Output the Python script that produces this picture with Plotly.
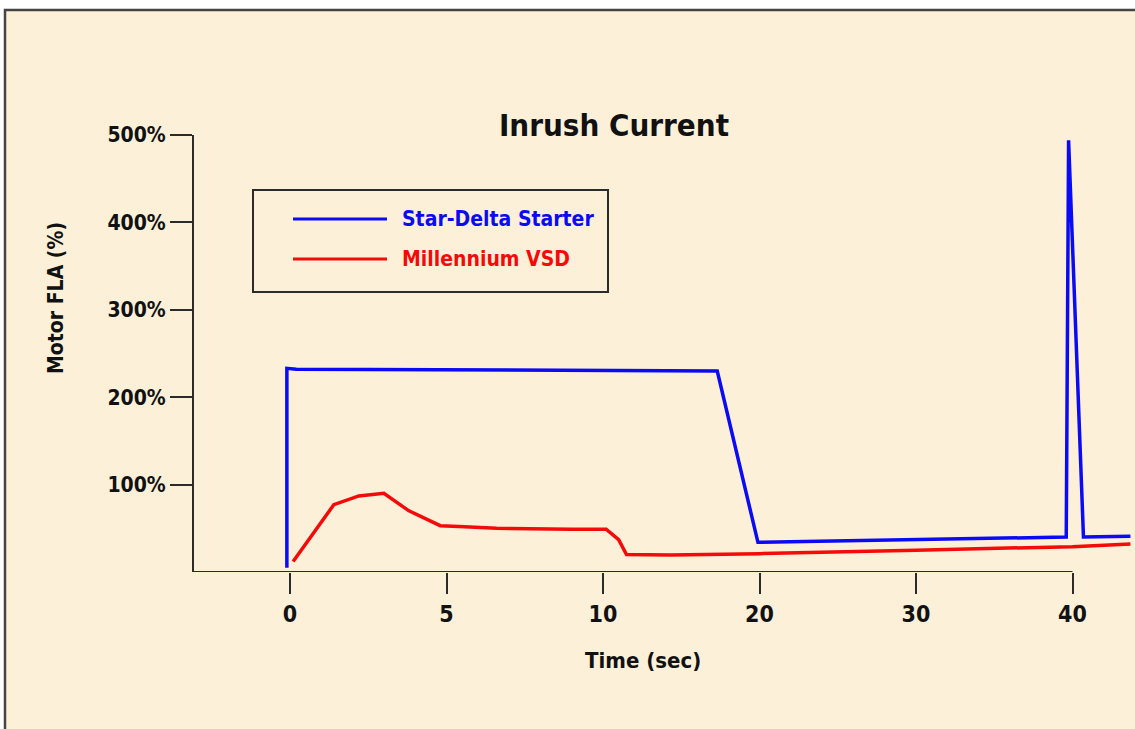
import numpy as np
import plotly.graph_objects as go

# ---------------- data ----------------
tick_seconds = [0, 5, 10, 20, 30, 40]
tick_labels = ["0", "5", "10", "20", "30", "40"]
y_tick_values = [100, 200, 300, 400, 500]
y_tick_labels = ["100%", "200%", "300%", "400%", "500%"]

star_delta_time = [-0.1, -0.1, 0.2, 7.4, 17.3, 19.9, 30.0, 39.6, 39.75, 40.7, 43.7]
star_delta_fla = [5, 233, 232, 231, 230, 34, 37, 40, 494, 40, 41]

vsd_time = [0.1, 1.4, 2.2, 3.0, 3.8, 4.8, 5.4, 6.6, 9.0, 10.2, 11.0, 11.5, 14.3, 20.0, 30.0, 40.0, 43.7]
vsd_fla = [12, 77, 87, 90, 70, 53, 52, 50, 49, 49, 37, 20, 19.5, 21, 25, 29, 32]

series_names = ["Star-Delta Starter", "Millennium VSD"]
series_colors = ["#0a0af5", "#f50a0a"]

# ------------- axis warp: ticks equally spaced -------------
tick_index = list(range(len(tick_seconds)))


def to_axis(t):
    t = np.asarray(t, dtype=float)
    out = np.interp(t, tick_seconds, tick_index)
    lo = t < tick_seconds[0]
    hi = t > tick_seconds[-1]
    out[lo] = (t[lo] - tick_seconds[0]) / (tick_seconds[1] - tick_seconds[0])
    out[hi] = tick_index[-1] + (t[hi] - tick_seconds[-1]) / (tick_seconds[-1] - tick_seconds[-2])
    return out


# ------------- layout geometry (pixels) -------------
W, H = 1135, 729
L, R, T, B = 194, 1135, 135, 572
PW, PH = R - L, B - T
x0_px, x_step_px = 290, 156.5
x_min = (L - x0_px) / x_step_px
x_max = (R - x0_px) / x_step_px


def px(x):
    return (x - L) / PW


def py(y):
    return (B - y) / PH


FONT = "DejaVu Sans Condensed, Liberation Sans Narrow, DejaVu Sans, sans-serif"
INK = "#2b2b2b"
TXT = "#111111"
CREAM = "#fcf0d9"

fig = go.Figure()
fig.add_trace(go.Scatter(x=to_axis(star_delta_time), y=star_delta_fla, mode="lines",
                         name=series_names[0], line=dict(color=series_colors[0], width=3.5),
                         showlegend=False))
fig.add_trace(go.Scatter(x=to_axis(vsd_time), y=vsd_fla, mode="lines",
                         name=series_names[1], line=dict(color=series_colors[1], width=3.5),
                         showlegend=False))

shapes = [
    # outer frame
    dict(type="rect", xref="paper", yref="paper", x0=px(5), x1=px(1145), y0=py(745), y1=py(10),
         line=dict(color="#444444", width=2.5), fillcolor=CREAM, layer="below"),
    # x-axis baseline up to last tick
    dict(type="line", xref="x", yref="y", x0=x_min, x1=tick_index[-1], y0=0, y1=0,
         line=dict(color=INK, width=2)),
    # legend box
    dict(type="rect", xref="paper", yref="paper", x0=px(253), x1=px(608), y0=py(292), y1=py(190),
         line=dict(color=INK, width=2), fillcolor="rgba(0,0,0,0)"),
    dict(type="line", xref="paper", yref="paper", x0=px(293), x1=px(387), y0=py(219), y1=py(219),
         line=dict(color=series_colors[0], width=3)),
    dict(type="line", xref="paper", yref="paper", x0=px(293), x1=px(387), y0=py(259), y1=py(259),
         line=dict(color=series_colors[1], width=3)),
]

annotations = [
    dict(text="<b>Inrush Current</b>", xref="paper", yref="paper", x=px(614), y=py(125),
         xanchor="center", yanchor="middle", showarrow=False,
         font=dict(family=FONT, size=31, color=TXT)),
    dict(text="<b>Motor FLA (%)</b>", xref="paper", yref="paper", x=px(56), y=py(298),
         xanchor="center", yanchor="middle", showarrow=False, textangle=-90,
         font=dict(family=FONT, size=21, color=TXT)),
    dict(text="<b>Time (sec)</b>", xref="paper", yref="paper", x=px(643), y=py(660),
         xanchor="center", yanchor="middle", showarrow=False,
         font=dict(family=FONT, size=22, color=TXT)),
    dict(text="<b>" + series_names[0] + "</b>", xref="paper", yref="paper", x=px(400), y=py(219),
         xanchor="left", yanchor="middle", showarrow=False,
         font=dict(family=FONT, size=21, color=series_colors[0])),
    dict(text="<b>" + series_names[1] + "</b>", xref="paper", yref="paper", x=px(400), y=py(259),
         xanchor="left", yanchor="middle", showarrow=False,
         font=dict(family=FONT, size=21, color=series_colors[1])),
]

fig.update_layout(
    width=W, height=H,
    margin=dict(l=L, r=W - R, t=T, b=H - B, pad=0),
    paper_bgcolor="white",
    plot_bgcolor="rgba(0,0,0,0)",
    shapes=shapes,
    annotations=annotations,
    showlegend=False,
    xaxis=dict(range=[x_min, x_max], tickmode="array", tickvals=tick_index, ticktext=tick_labels,
               showgrid=False, zeroline=False, showline=False,
               ticks="outside", ticklen=21, tickwidth=2, tickcolor=INK,
               tickfont=dict(family=FONT, size=23, color=TXT, weight="bold")),
    yaxis=dict(range=[0, 500], tickmode="array", tickvals=y_tick_values, ticktext=y_tick_labels,
               showgrid=False, zeroline=False, showline=True, linecolor=INK, linewidth=2,
               ticks="outside", ticklen=22, tickwidth=2, tickcolor=INK,
               tickfont=dict(family=FONT, size=21, color=TXT, weight="bold")),
)

fig.write_html("out.html", config={"displayModeBar": False},
               post_script="document.body.style.margin='0';document.body.style.padding='0';")
